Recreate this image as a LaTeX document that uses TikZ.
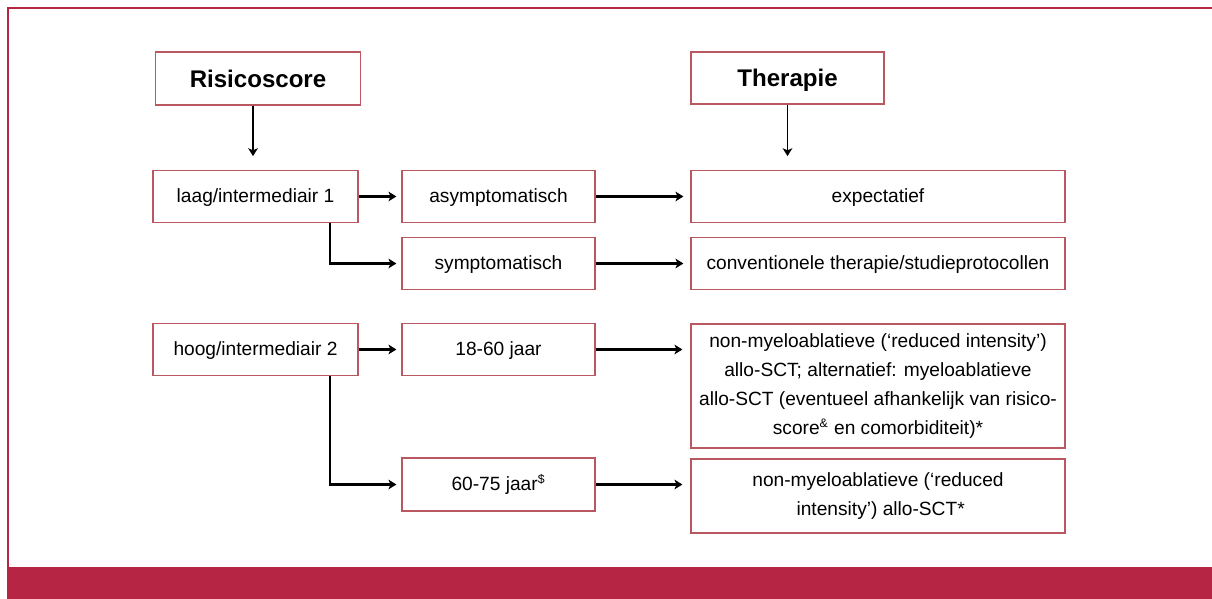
\documentclass[tikz,border=0pt]{standalone}
\usepackage{fontspec}
\setmainfont{Liberation Sans}
\usetikzlibrary{arrows.meta}
\definecolor{crimson}{RGB}{182,38,68}
\definecolor{boxred}{RGB}{186,88,98}
\begin{document}
\begin{tikzpicture}[
		box/.style={draw=boxred, line width=0.7pt, inner sep=0pt, align=center,
			font=\fontsize{10.9}{16.5}\selectfont},
		leftbox/.style={box, minimum width=4.1cm, minimum height=1.03cm},
		midbox/.style={box, minimum width=3.86cm, minimum height=1.03cm},
		rightbox/.style={box, minimum width=7.48cm, minimum height=1.03cm},
		oneline/.style={text height=9pt, text depth=2.2pt},
		title/.style={font=\fontsize{13.7}{16}\selectfont\bfseries, text height=10pt, text depth=0pt},
		pijl/.style={line width=1.5pt, -{Stealth[length=4.5pt,width=5.5pt,inset=1.2pt]}},
		dunpijl/.style={pijl, line width=1pt}]
		\useasboundingbox (0,0) rectangle (24.24,11.98);

		% kader en balk onderaan
		\fill[crimson] (0.14,0) rectangle (24.24,0.64);
		\draw[crimson, line width=0.05cm] (0.16,0.64) -- (0.16,11.82) -- (24.24,11.82);

		% kopjes
		\node[leftbox, title, minimum height=1.06cm] (risico) at (5.16,10.41) {Risicoscore};
		\node[midbox, title, minimum height=1.04cm] (therapie) at (15.75,10.42) {Therapie};

		% laag risico
		\node[leftbox, oneline] (laag) at (5.11,8.05) {laag/intermediair 1};
		\node[midbox, oneline] (asym) at (9.97,8.05) {asymptomatisch};
		\node[midbox, oneline] (sym) at (9.97,6.71) {symptomatisch};
		\node[rightbox, oneline] (expect) at (17.56,8.05) {expectatief};
		\node[rightbox, oneline] (conv) at (17.56,6.71) {conventionele therapie/studieprotocollen};

		% hoog risico
		\node[leftbox, oneline] (hoog) at (5.11,4.99) {hoog/intermediair 2};
		\node[midbox, oneline] (jong) at (9.97,4.99) {18-60 jaar};
		\node[midbox, oneline, minimum height=1.06cm] (oud) at (9.97,2.29) {60-75 jaar\textsuperscript{\scriptsize\$}};
		\node[rightbox, minimum height=2.48cm] (nma) at (17.56,4.26)
			{non-myeloablatieve (‘reduced intensity’)\\
			allo-SCT; alternatief: myeloablatieve\\
			allo-SCT (eventueel afhankelijk van risico-\\
			score\textsuperscript{\scriptsize\&} en comorbiditeit)*};
		\node[rightbox, minimum height=1.48cm] (nmb) at (17.56,2.06)
			{non-myeloablatieve (‘reduced\\
			\ intensity’) allo-SCT*};

		\draw[dunpijl, shorten >=0.28cm] (risico.south -| 5.06,0) -- (laag.north -| 5.06,0);
		\draw[dunpijl, shorten >=0.28cm] (therapie.south) -- (therapie.south |- expect.north);

		\draw[pijl, shorten >=0.1cm] (laag.east) -- (asym.west);
		\draw[pijl, shorten >=0.14cm] (asym.east) -- (expect.west);
		\draw[pijl, shorten >=0.1cm] (laag.south -| 6.6,0) |- (sym.west);
		\draw[pijl, shorten >=0.14cm] (sym.east) -- (conv.west);

		\draw[pijl, shorten >=0.1cm] (hoog.east) -- (jong.west);
		\draw[pijl, shorten >=0.16cm] (jong.east) -- (jong.east -| nma.west);
		\draw[pijl, shorten >=0.1cm] (hoog.south -| 6.6,0) |- (oud.west);
		\draw[pijl, shorten >=0.16cm] (oud.east) -- (oud.east -| nmb.west);
	\end{tikzpicture}
\end{document}
